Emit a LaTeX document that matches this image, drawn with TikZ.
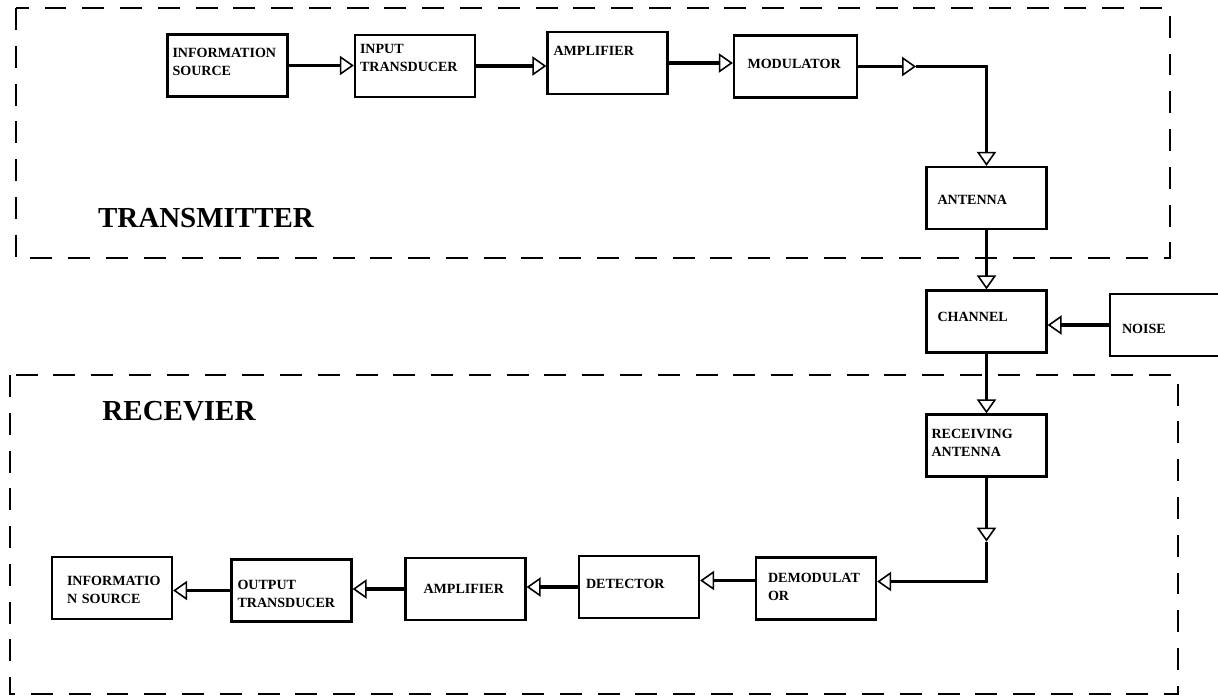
\documentclass[tikz,border=0pt]{standalone}
\usepackage{fontspec}
\setmainfont{Liberation Serif}
\usetikzlibrary{arrows.meta,positioning}
\tikzset{
    >={Triangle[open,length=8pt,width=11pt,line width=0.9pt]},
    blok/.style={
           rectangle,
           draw=black, line width=1.3pt,
           minimum width=2.4cm,
           minimum height=1.24cm,
           inner xsep=#1,
           text width=2.4cm-2*#1,
           align=left,
           font=\fontsize{8}{10.5}\selectfont\bfseries},
    blok/.default=0.1cm,
    lift/.style={text height=0pt, text depth=#1},
    drop/.style={text height=#1, text depth=0pt},
    strek/.style={
           ->,
           line width=2.2pt},
    ramme/.style={
           draw=black, line width=1.1pt,
           dash pattern=on 12.5pt off 9pt},
    tittel/.style={
           font=\fontsize{16.5}{20}\selectfont\bfseries}
}

\begin{document}
\begin{tikzpicture}[x=0.02cm, y=-0.02cm]
        \useasboundingbox (0,0) rectangle (1218,700);
        \draw[ramme] (16,8) rectangle (1170,258);
        \draw[ramme] (10,375) rectangle (1178,694);
        \node[tittel] (tx) at (206,218) {TRANSMITTER};
        \node[tittel] (rx) at (179,411) {RECEVIER};

        \node[blok, lift=0.34cm] (src) at (227.5,65.5) {INFORMATION\\SOURCE};
        \node[blok, lift=0.52cm] (inp) at (415,66) {INPUT\\TRANSDUCER};
        \node[blok=0.12cm, lift=0.32cm] (amp) at (607.5,63) {AMPLIFIER};
        \node[blok=0.24cm, drop=0.06cm, minimum width=2.46cm] (mod) at (795.5,66.5) {MODULATOR};
        \node[blok=0.22cm, drop=0.24cm] (ant) at (986.5,198) {ANTENNA};
        \node[blok=0.22cm, lift=0pt] (chan) at (986.5,321.5) {CHANNEL};
        \node[blok=0.24cm, drop=0.32cm] (noise) at (1170,325) {NOISE};
        \node[blok, lift=0.3cm] (rant) at (986.5,445.5) {RECEIVING\\ANTENNA};
        \node[blok=0.24cm, lift=0.26cm] (demod) at (816,588.5) {DEMODULAT\\OR};
        \node[blok=0.14cm, drop=0.04cm] (det) at (639,587) {DETECTOR};
        \node[blok=0.36cm, drop=0.16cm] (amp2) at (465.5,589) {AMPLIFIER};
        \node[blok=0.12cm, lift=0.06cm] (outt) at (291.5,590.5) {OUTPUT\\TRANSDUCER};
        \node[blok=0.3cm, lift=0.12cm] (dst) at (112,588) {INFORMATIO\\N SOURCE};

        \coordinate[right=1.16cm of mod.east] (m1);
        \coordinate[below=1.28cm of rant.south] (r1);
        \coordinate (de) at ([yshift=0.14cm]demod.east);
        \coordinate (dw) at ([yshift=0.16cm]demod.west);

        \draw[strek] (src.east) -- (inp.west |- src.east);
        \draw[strek] (inp.east) -- (amp.west |- inp.east);
        \draw[strek] (amp.east) -- (mod.west |- amp.east);
        \draw[strek] (mod.east) -- (m1);
        \draw[strek] (m1) -| (ant.north);
        \draw[strek] (ant) -- (chan);
        \draw[strek] (noise.west) -- (chan.east |- noise.west);
        \draw[strek] (chan) -- (rant);
        \draw[strek] (rant.south) -- (r1);
        \draw[strek] (r1) |- (de);
        \draw[strek] (dw) -- (det.east |- dw);
        \draw[strek] (det.west) -- (amp2.east |- det.west);
        \draw[strek] (amp2.west) -- (outt.east |- amp2.west);
        \draw[strek] (outt.west) -- (dst.east |- outt.west);
    \end{tikzpicture}
\end{document}
